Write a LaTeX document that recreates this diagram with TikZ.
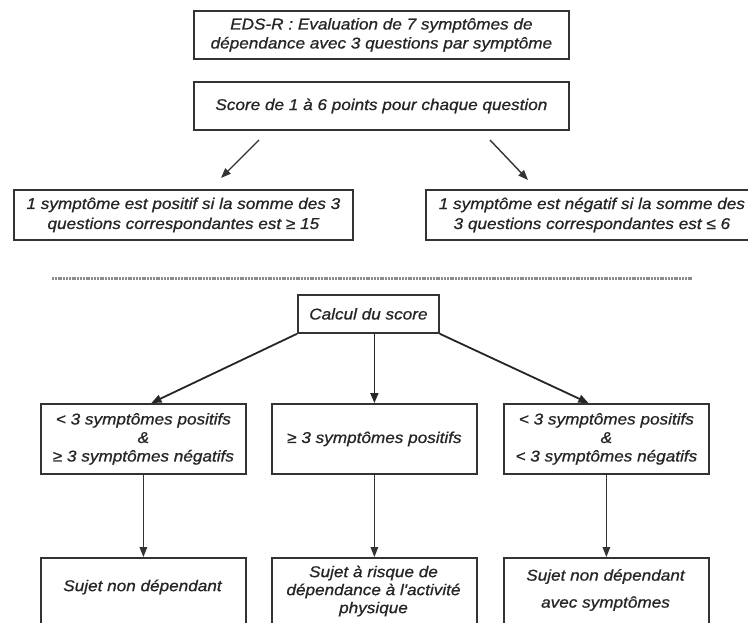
\documentclass[tikz,border=0pt]{standalone}
\usepackage{fontspec}
\newfontfamily\diagfont[FakeStretch=1.1,FakeBold=0.8]{Liberation Sans}
\usetikzlibrary{arrows.meta}
\begin{document}
\begin{tikzpicture}[x=1pt,y=-1pt,
  box/.style={draw=black!80, line width=1.8pt, inner sep=0pt, anchor=north west},
  txt/.style={font=\diagfont\itshape\fontsize{15.6}{19}\selectfont, align=center, text=black!85},
  arr/.style={-{Triangle[length=10pt,width=8pt]}, line width=1.8pt, draw=black!85},
  thinarr/.style={-{Triangle[length=10pt,width=7.5pt]}, line width=1.4pt, draw=black!80},
  sep/.style={draw=black!45, line width=3pt, dash pattern=on 2pt off 0.8pt}
]
\useasboundingbox (0,0) rectangle (748,623);
\fill[white] (0,0) rectangle (748,623);

% upper part
\node[box, txt, minimum width=375pt, minimum height=48pt] (b1) at (193,10)
  {EDS-R : Evaluation de 7 symptômes de\\dépendance avec 3 questions par symptôme};
\node[box, txt, minimum width=375pt, minimum height=48pt] (b2) at (193,81)
  {Score de 1 à 6 points pour chaque question};
\node[box, txt, minimum width=339pt, minimum height=50pt, font=\diagfont\itshape\fontsize{15.6}{20}\selectfont] (pos) at (13,189)
  {1 symptôme est positif si la somme des 3\\questions correspondantes est ≥ 15};
\node[box, txt, minimum width=332pt, minimum height=50pt, font=\diagfont\itshape\fontsize{15.6}{20}\selectfont] (neg) at (425,189)
  {1 symptôme est négatif si la somme des\\3 questions correspondantes est ≤ 6};

\coordinate (a1s) at (259,140);
\coordinate (a1e) at (221,178);
\coordinate (a2s) at (490,140);
\coordinate (a2e) at (528,180);
\draw[thinarr] (a1s) -- (a1e);
\draw[thinarr] (a2s) -- (a2e);

% separator
\coordinate (s1) at (52,279);
\coordinate (s2) at (692,279);
\draw[sep] (s1) -- (s2);

% lower part
\node[box, txt, minimum width=141pt, minimum height=38pt] (calc) at (297,294)
  {Calcul du score};

\node[box, txt, minimum width=205pt, minimum height=70pt, font=\diagfont\itshape\fontsize{15.6}{18.5}\selectfont] (r2a) at (40,403)
  {< 3 symptômes positifs\\\&\\≥ 3 symptômes négatifs};
\node[box, txt, minimum width=205pt, minimum height=70pt] (r2b) at (271,403)
  {≥ 3 symptômes positifs};
\node[box, txt, minimum width=205pt, minimum height=70pt, font=\diagfont\itshape\fontsize{15.6}{18.5}\selectfont] (r2c) at (503,403)
  {< 3 symptômes positifs\\\&\\< 3 symptômes négatifs};

\node[box, minimum width=205pt, minimum height=80pt] (r3a) at (40,557) {};
\node[box, minimum width=205pt, minimum height=80pt] (r3b) at (271,557) {};
\node[box, minimum width=205pt, minimum height=80pt] (r3c) at (503,557) {};

\node[txt] (t3a) at (142.5,587) {Sujet non dépendant};
\node[txt, font=\diagfont\itshape\fontsize{15.6}{18}\selectfont] (t3b) at (373.5,591)
  {Sujet à risque de\\dépendance à l'activité\\physique};
\node[txt, font=\diagfont\itshape\fontsize{15.6}{27}\selectfont] (t3c) at (605.5,590)
  {Sujet non dépendant\\avec symptômes};

\draw[arr] (calc.south west) -- ([xshift=8pt]r2a.north);
\draw[arr] (calc.south -| r2b.north) -- (r2b.north);
\draw[arr] (calc.south east) -- ([xshift=-18pt]r2c.north);

\draw[thinarr] (r2a.south) -- (r3a.north);
\draw[thinarr] (r2b.south) -- (r3b.north);
\draw[thinarr] (r2c.south) -- (r3c.north);
\end{tikzpicture}
\end{document}
